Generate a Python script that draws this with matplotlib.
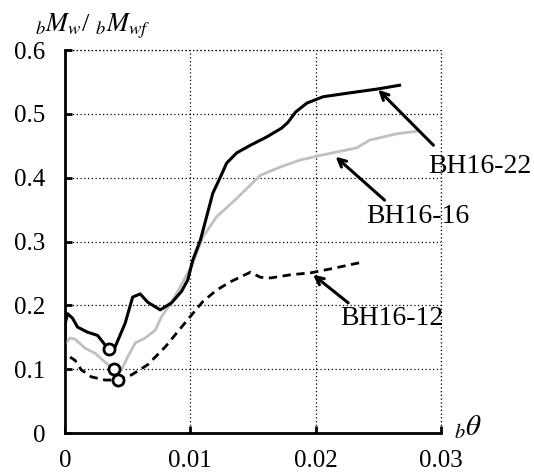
import matplotlib
matplotlib.use('Agg')
import matplotlib.pyplot as plt

plt.rcParams['font.family'] = ['Liberation Serif', 'DejaVu Serif']
plt.rcParams['mathtext.fontset'] = 'stix'

# BH16-22 (black solid)
x22 = [0.0, 0.0, 0.0002, 0.0006, 0.001, 0.0018, 0.0026, 0.0032, 0.0035, 0.004, 0.0048, 0.0054,
       0.006, 0.0066, 0.0076, 0.0085, 0.0093, 0.0098, 0.0102, 0.0108, 0.0113, 0.0118, 0.0124,
       0.0129, 0.0137, 0.0148, 0.0161, 0.0173, 0.0178, 0.0184, 0.0193, 0.0206, 0.0227, 0.0249, 0.0267]
y22 = [0.0, 0.17, 0.187, 0.18, 0.166, 0.158, 0.153, 0.138, 0.132, 0.135, 0.172, 0.213,
       0.218, 0.205, 0.193, 0.204, 0.222, 0.24, 0.271, 0.302, 0.339, 0.376, 0.401,
       0.423, 0.439, 0.451, 0.464, 0.478, 0.487, 0.503, 0.517, 0.527, 0.533, 0.539, 0.545]

# BH16-16 (grey solid)
x16 = [0.0, 0.0, 0.0004, 0.0008, 0.0016, 0.0024, 0.0032, 0.0039, 0.0045, 0.005, 0.0056, 0.0064,
       0.0072, 0.0077, 0.0085, 0.0092, 0.0102, 0.011, 0.0121, 0.0134, 0.0145, 0.0156, 0.0172,
       0.0188, 0.0206, 0.0233, 0.0243, 0.0265, 0.0281]
y16 = [0.0, 0.14, 0.149, 0.147, 0.133, 0.125, 0.111, 0.1, 0.099, 0.119, 0.141, 0.149,
       0.161, 0.182, 0.205, 0.229, 0.266, 0.307, 0.339, 0.362, 0.383, 0.404, 0.417,
       0.428, 0.436, 0.447, 0.459, 0.469, 0.473]

# BH16-12 (black dashed)
x12 = [0.0004, 0.0008, 0.0013, 0.0021, 0.0032, 0.0042, 0.0053, 0.0066, 0.008, 0.0093, 0.011,
       0.0121, 0.0132, 0.0148, 0.0156, 0.0164, 0.018, 0.0196, 0.0214, 0.0233, 0.0239]
y12 = [0.119, 0.114, 0.099, 0.088, 0.083, 0.083, 0.091, 0.107, 0.135, 0.166, 0.206,
       0.224, 0.237, 0.252, 0.244, 0.243, 0.248, 0.251, 0.258, 0.266, 0.268]

# minimum points (open circles)
cx = [0.0035, 0.0039, 0.0042]
cy = [0.132, 0.100, 0.083]

labels = ['BH16-22', 'BH16-16', 'BH16-12']
arrow_tips = [(0.025, 0.538), (0.0216, 0.433), (0.0198, 0.248)]
arrow_tails = [(0.0294, 0.451), (0.0255, 0.365), (0.0226, 0.204)]
label_pos = [(0.029, 0.417), (0.024, 0.339), (0.022, 0.18)]

fig = plt.figure(figsize=(5.34, 4.75), dpi=100)
ax = fig.add_axes([0.1217, 0.0884, 0.704, 0.806])

ax.plot(x16, y16, color='#c0c0c0', lw=2.0, zorder=3)
ax.plot(x22, y22, color='black', lw=2.2, zorder=4)
ax.plot(x12, y12, color='black', lw=2.0, ls=(0, (3, 2)), zorder=4)
ax.plot(cx, cy, 'o', ms=8, mfc='white', mec='black', mew=2, zorder=5)

for lab, tip, tail, pos in zip(labels, arrow_tips, arrow_tails, label_pos):
    ax.annotate('', xy=tip, xytext=tail, annotation_clip=False,
                arrowprops=dict(arrowstyle='->', lw=2.2, color='black', mutation_scale=14,
                                shrinkA=0, shrinkB=0))
    ax.text(pos[0], pos[1], lab, fontsize=20, va='center', ha='left', clip_on=False)

ax.set_xlim(0, 0.03)
ax.set_ylim(0, 0.6)
ax.set_xticks([0, 0.01, 0.02, 0.03])
ax.set_xticklabels(['0', '0.01', '0.02', '0.03'])
ax.set_yticks([0, 0.1, 0.2, 0.3, 0.4, 0.5, 0.6])
ax.set_yticklabels(['0', '0.1', '0.2', '0.3', '0.4', '0.5', '0.6'])
ax.tick_params(direction='in', length=5, width=2, labelsize=18)
ax.tick_params(axis='x', pad=12)
ax.tick_params(axis='y', pad=14)
ax.grid(True, color='black', ls=(0, (1, 2)), lw=0.9)

ax.spines['top'].set_visible(False)
ax.spines['right'].set_visible(False)
ax.spines['left'].set_linewidth(2)
ax.spines['bottom'].set_linewidth(2)
# dotted frame at top and right as in original
ax.axhline(0.6, color='black', ls=(0, (1, 2)), lw=0.9, clip_on=False)
ax.axvline(0.03, color='black', ls=(0, (1, 2)), lw=0.9, clip_on=False)

fig.text(0.065, 0.945, r'${}_{b}M_{w}$/ ${}_{b}M_{wf}$', fontsize=19, va='center', ha='left')
fig.text(0.85, 0.10, r'${}_{b}\theta$', fontsize=21, va='center', ha='left')

fig.savefig('out.png', dpi=100)
